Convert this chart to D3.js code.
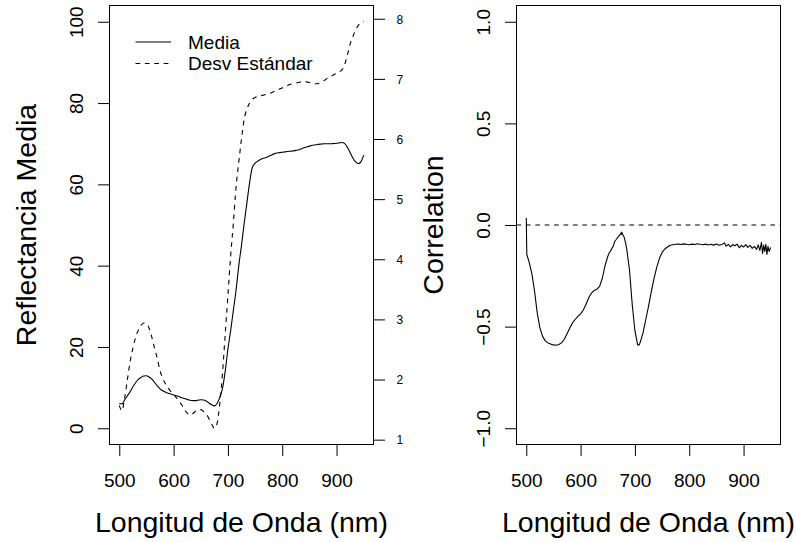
<!DOCTYPE html>
<html lang="es">
<head>
<meta charset="utf-8">
<script src="https://cdn.jsdelivr.net/npm/d3@7/dist/d3.min.js"></script>
<style>
  html, body { margin: 0; padding: 0; background: #fff; }
  svg text { font-family: "Liberation Sans", Arial, Helvetica, sans-serif; fill: #000; }
</style>
</head>
<body>
<div id="chart"></div>
<script>
// ========= DATOS =========
// longitudes de onda (nm) para media y desviación estándar
const LONG_ONDA = [
  500,505,510,515,520,525,530,535,540,545,550,555,560,565,570,575,580,585,590,595,
  600,605,610,615,620,625,630,635,640,645,650,655,660,665,670,675,680,685,690,695,
  700,705,710,715,720,725,730,735,740,745,750,755,760,765,770,775,780,785,790,795,
  800,805,810,815,820,825,830,835,840,845,850,855,860,865,870,875,880,885,890,895,
  900,905,910,915,920,925,930,935,940,945,950
];

// Reflectancia media (%)
const MEDIA = [
  6.1,6.0,7.0,8.0,9.0,10.2,11.2,12.0,12.5,12.85,12.9,12.6,12.1,11.3,10.4,9.7,9.2,8.9,8.6,8.4,
  8.2,8.0,7.8,7.5,7.3,7.1,6.9,6.8,6.8,6.9,7.0,6.95,6.7,6.2,5.8,5.5,6.1,7.6,9.8,14.0,
  19.5,24.0,29.0,34.0,40.0,45.0,50.5,55.5,60.5,64.2,65.2,65.7,66.1,66.4,66.6,66.9,67.2,67.5,67.7,67.8,
  67.9,68.0,68.1,68.15,68.2,68.35,68.5,68.75,69.0,69.2,69.4,69.6,69.7,69.8,69.9,69.95,70.0,70.0,70.0,70.05,
  70.1,70.2,70.3,70.0,69.1,67.8,66.5,65.5,65.1,65.6,67.2
];

// Desviación estándar (eje derecho)
const DESV = [
  1.57,1.48,1.7,2.0,2.3,2.52,2.7,2.82,2.9,2.94,2.93,2.85,2.7,2.52,2.35,2.15,2.02,1.93,1.86,1.8,
  1.76,1.7,1.64,1.58,1.5,1.44,1.41,1.43,1.47,1.5,1.5,1.47,1.43,1.35,1.26,1.19,1.27,1.6,2.1,2.75,
  3.4,4.05,4.6,5.2,5.62,6.0,6.33,6.5,6.6,6.66,6.69,6.71,6.72,6.73,6.74,6.75,6.77,6.79,6.81,6.83,
  6.85,6.87,6.89,6.91,6.92,6.93,6.94,6.95,6.95,6.95,6.94,6.93,6.92,6.92,6.94,6.96,6.99,7.02,7.04,7.07,
  7.09,7.12,7.15,7.24,7.4,7.58,7.7,7.81,7.89,7.93,7.95
];

// correlación vs longitud de onda
const LONG_ONDA_COR = [
  500,501,505,510,515,520,525,530,535,540,545,550,555,560,565,570,575,580,585,590,595,
  600,605,610,615,620,625,630,635,640,645,650,653,655,657,660,663,666,670,672,674,675,676,678,
  680,683,685,690,695,700,705,708,710,715,720,725,730,735,740,745,750,755,760,765,770,775,
  780,785,790,795,800,805,810,815,820,825,830,835,840,845,850,855,860,865,868,872,876,
  880,884,888,892,896,900,904,908,912,916,920,924,927,930,933,935,937,939,941,943,945,947,950
];
const CORRELACION = [
  0.035,-0.145,-0.18,-0.235,-0.32,-0.43,-0.505,-0.548,-0.57,-0.58,-0.586,-0.59,-0.592,-0.588,-0.58,-0.562,-0.535,-0.508,-0.482,-0.465,-0.45,
  -0.437,-0.418,-0.39,-0.358,-0.335,-0.322,-0.316,-0.302,-0.262,-0.2,-0.155,-0.135,-0.13,-0.118,-0.105,-0.08,-0.07,-0.055,-0.05,-0.04,-0.046,-0.035,-0.05,
  -0.058,-0.09,-0.12,-0.22,-0.39,-0.52,-0.59,-0.59,-0.575,-0.53,-0.465,-0.4,-0.33,-0.265,-0.21,-0.165,-0.135,-0.118,-0.108,-0.1,-0.097,-0.095,
  -0.094,-0.096,-0.093,-0.095,-0.097,-0.094,-0.096,-0.092,-0.095,-0.097,-0.094,-0.098,-0.095,-0.099,-0.094,-0.1,-0.096,-0.088,-0.104,-0.095,-0.108,
  -0.096,-0.102,-0.094,-0.112,-0.1,-0.108,-0.097,-0.11,-0.1,-0.115,-0.105,-0.12,-0.098,-0.125,-0.085,-0.14,-0.1,-0.13,-0.095,-0.145,-0.105,-0.13,-0.11
];

// ticks
const TICKS_X = [500, 600, 700, 800, 900];
const TICKS_MEDIA = [0, 20, 40, 60, 80, 100];
const TICKS_DESV = [1, 2, 3, 4, 5, 6, 7, 8];
const TICKS_COR = [-1, -0.5, 0, 0.5, 1];

// rangos fijos (ylim) como en el original
const LIM_X = [500, 950];
const LIM_MEDIA = [0, 100];
const LIM_COR = [-1, 1];

// ========= CONFIG =========
const W = 796, H = 542;
const TOP = 5.5, BOTTOM = 444.5;
const PANEL1 = { left: 109.5, right: 373.5 };
const PANEL2 = { left: 516.5, right: 780.5 };
const TICK_LEN = 11.5;
const F_TICK = 19, F_LAB = 28.5, F_DER = 12;
const DASH = "4.7,4.7";

// ========= HELPERS =========
// expande 4% como xaxs/yaxs = "r" de R
function pad(lim){
  const d = (lim[1] - lim[0]) * 0.04;
  return [lim[0] - d, lim[1] + d];
}

function box(g, p){
  g.append("rect")
    .attr("x", p.left).attr("y", TOP)
    .attr("width", p.right - p.left).attr("height", BOTTOM - TOP)
    .attr("fill", "none").attr("stroke", "#000").attr("stroke-width", 1);
}

function ejeX(g, x, p, titulo){
  const ax = g.append("g")
    .attr("transform", `translate(0,${BOTTOM})`)
    .call(d3.axisBottom(x).tickValues(TICKS_X).tickSize(TICK_LEN).tickSizeOuter(0).tickFormat(d3.format("d")));
  ax.select(".domain").remove();
  ax.selectAll(".tick line").attr("stroke", "#000");
  ax.selectAll(".tick text")
    .attr("y", 42.5).attr("dy", null)
    .attr("font-size", F_TICK).attr("font-family", null);

  g.append("text")
    .attr("x", (p.left + p.right) / 2)
    .attr("y", 531.5)
    .attr("text-anchor", "middle")
    .attr("font-size", F_LAB)
    .text(titulo);
}

function ejeY(g, y, p, ticks, fmt, titulo){
  const ax = g.append("g")
    .attr("transform", `translate(${p.left},0)`)
    .call(d3.axisLeft(y).tickValues(ticks).tickSize(TICK_LEN).tickSizeOuter(0).tickFormat(fmt));
  ax.select(".domain").remove();
  ax.selectAll(".tick line").attr("stroke", "#000");
  // etiquetas giradas (las = 0)
  ax.selectAll(".tick text")
    .attr("transform", "rotate(-90)")
    .attr("x", 0).attr("y", -27).attr("dy", null)
    .attr("text-anchor", "middle")
    .attr("font-size", F_TICK).attr("font-family", null);

  g.append("text")
    .attr("transform", `translate(${p.left - 73.5},${(TOP + BOTTOM) / 2}) rotate(-90)`)
    .attr("text-anchor", "middle")
    .attr("font-size", F_LAB)
    .text(titulo);
}

// ========= RENDER =========
const svg = d3.select("#chart").append("svg")
  .attr("width", W).attr("height", H)
  .attr("viewBox", `0 0 ${W} ${H}`);

svg.append("rect").attr("width", W).attr("height", H).attr("fill", "#fff");

// ---- panel izquierdo: media y desviación ----
const g1 = svg.append("g");

const x1 = d3.scaleLinear().domain(pad(LIM_X)).range([PANEL1.left, PANEL1.right]);
const yMedia = d3.scaleLinear().domain(pad(LIM_MEDIA)).range([BOTTOM, TOP]);
// la desviación se dibuja encima con su propia escala (par(new=TRUE))
const yDesv = d3.scaleLinear().domain(pad(d3.extent(DESV))).range([BOTTOM, TOP]);

const datos1 = LONG_ONDA.map((nm, i) => ({ nm, media: MEDIA[i], desv: DESV[i] }));

g1.append("path")
  .datum(datos1)
  .attr("fill", "none").attr("stroke", "#000").attr("stroke-width", 1.1)
  .attr("d", d3.line().x(d => x1(d.nm)).y(d => yMedia(d.media)).curve(d3.curveMonotoneX));

g1.append("path")
  .datum(datos1)
  .attr("fill", "none").attr("stroke", "#000").attr("stroke-width", 1.1)
  .attr("stroke-dasharray", DASH)
  .attr("d", d3.line().x(d => x1(d.nm)).y(d => yDesv(d.desv)).curve(d3.curveMonotoneX));

box(g1, PANEL1);
ejeX(g1, x1, PANEL1, "Longitud de Onda (nm)");
ejeY(g1, yMedia, PANEL1, TICKS_MEDIA, d3.format("d"), "Reflectancia Media");

// eje derecho (desviación)
const axDer = g1.append("g")
  .attr("transform", `translate(${PANEL1.right},0)`)
  .call(d3.axisRight(yDesv).tickValues(TICKS_DESV).tickSize(TICK_LEN).tickPadding(11.5).tickSizeOuter(0).tickFormat(d3.format("d")));
axDer.select(".domain").remove();
axDer.selectAll(".tick line").attr("stroke", "#000");
axDer.selectAll(".tick text")
  .attr("dy", "0.36em")
  .attr("font-size", F_DER).attr("font-family", null);

// leyenda (sin caja)
const leyenda = [
  { nombre: "Media", dash: null, y: 42 },
  { nombre: "Desv Estándar", dash: DASH, y: 63.5 }
];
const lg = g1.append("g");
leyenda.forEach(l => {
  lg.append("line")
    .attr("x1", 135.5).attr("x2", 171).attr("y1", l.y).attr("y2", l.y)
    .attr("stroke", "#000").attr("stroke-width", 1.1)
    .attr("stroke-dasharray", l.dash);
  lg.append("text")
    .attr("x", 188).attr("y", l.y + 6.5)
    .attr("font-size", F_TICK)
    .text(l.nombre);
});

// ---- panel derecho: correlación ----
const g2 = svg.append("g");

const x2 = d3.scaleLinear().domain(pad(LIM_X)).range([PANEL2.left, PANEL2.right]);
const yCor = d3.scaleLinear().domain(pad(LIM_COR)).range([BOTTOM, TOP]);

const datos2 = LONG_ONDA_COR.map((nm, i) => ({ nm, r: CORRELACION[i] }));

// línea de referencia en 0
g2.append("line")
  .attr("x1", PANEL2.left).attr("x2", PANEL2.right)
  .attr("y1", yCor(0)).attr("y2", yCor(0))
  .attr("stroke", "#000").attr("stroke-width", 1.1)
  .attr("stroke-dasharray", DASH);

g2.append("path")
  .datum(datos2)
  .attr("fill", "none").attr("stroke", "#000").attr("stroke-width", 1.1)
  .attr("stroke-linejoin", "round")
  .attr("d", d3.line().x(d => x2(d.nm)).y(d => yCor(d.r)));

box(g2, PANEL2);
ejeX(g2, x2, PANEL2, "Longitud de Onda (nm)");
ejeY(g2, yCor, PANEL2, TICKS_COR, d3.format(".1f"), "Correlation");
</script>
</body>
</html>
